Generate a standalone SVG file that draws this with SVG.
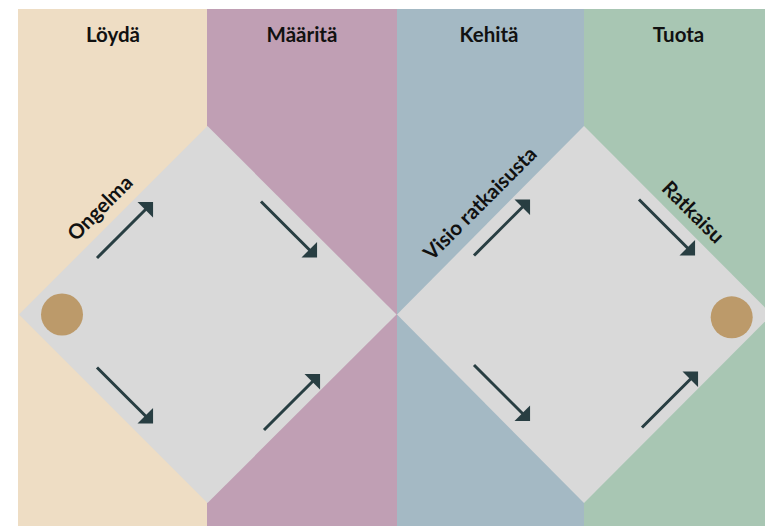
<svg xmlns="http://www.w3.org/2000/svg" width="765" height="526" viewBox="0 0 765 526">
  <style>
    .hdr { font-family: "Lato", "Liberation Sans", sans-serif; font-weight: 700; font-size: 20.5px; fill: #111; text-anchor: middle; }
    .lbl { font-family: "Lato", "Liberation Sans", sans-serif; font-weight: 700; font-size: 20.5px; fill: #111; text-anchor: middle; }
    .diamond { fill: #D9D9D9; }
    .dot { fill: #BC9A6A; }
    .arrow { fill: none; stroke: #283E42; stroke-width: 3; marker-end: url(#head); }
  </style>
  <defs>
    <!-- right-angled head: tip 6px beyond line end, base 22px wide -->
    <marker id="head" markerUnits="userSpaceOnUse" orient="auto" refX="0" refY="0" markerWidth="40" markerHeight="40" overflow="visible">
      <path d="M6,0 L-5,-11 L-5,11 Z" fill="#283E42"/>
    </marker>
  </defs>
  <rect width="765" height="526" fill="#ffffff"/>

  <!-- phase columns -->
  <g id="phase-loyda">
    <rect x="18" y="9" width="189" height="517" fill="#EEDDC4"/>
    <text class="hdr" x="113" y="42">Löydä</text>
  </g>
  <g id="phase-maarita">
    <rect x="207" y="9" width="190" height="517" fill="#C09FB4"/>
    <text class="hdr" x="302" y="42">Määritä</text>
  </g>
  <g id="phase-kehita">
    <rect x="397" y="9" width="187" height="517" fill="#A4B9C4"/>
    <text class="hdr" x="489" y="42">Kehitä</text>
  </g>
  <g id="phase-tuota">
    <rect x="584" y="9" width="181" height="517" fill="#A8C6B3"/>
    <text class="hdr" x="678.5" y="42">Tuota</text>
  </g>

  <!-- double diamond -->
  <g id="diamond-problem">
    <polygon class="diamond" points="19,314.5 207.5,126 396.5,314.5 207.5,503"/>
    <text class="lbl" transform="translate(105 213) rotate(-45)">Ongelma</text>
  </g>
  <g id="diamond-solution">
    <polygon class="diamond" points="397,314.5 584,126 772,314.5 584,503"/>
    <text class="lbl" transform="translate(485 208.5) rotate(-45)">Visio ratkaisusta</text>
    <text class="lbl" transform="translate(688 217) rotate(45)">Ratkaisu</text>
  </g>

  <g id="start-point">
    <circle class="dot" cx="62" cy="314.5" r="21"/>
  </g>
  <g id="end-point">
    <circle class="dot" cx="731.7" cy="317.3" r="21"/>
  </g>

  <!-- flow arrows; each path stops 6px short of its tip -->
  <g id="connectors">
    <path class="arrow" d="M97,258 L148.8,206.2"/>
    <path class="arrow" d="M261,201.5 L312.8,253.3"/>
    <path class="arrow" d="M97,367.5 L148.8,419.3"/>
    <path class="arrow" d="M264,430 L315.8,378.2"/>
    <path class="arrow" d="M474,255.5 L525.8,203.7"/>
    <path class="arrow" d="M639,199.5 L690.8,251.3"/>
    <path class="arrow" d="M474,365 L525.8,416.8"/>
    <path class="arrow" d="M642,427.5 L693.8,375.7"/>
  </g>
</svg>
